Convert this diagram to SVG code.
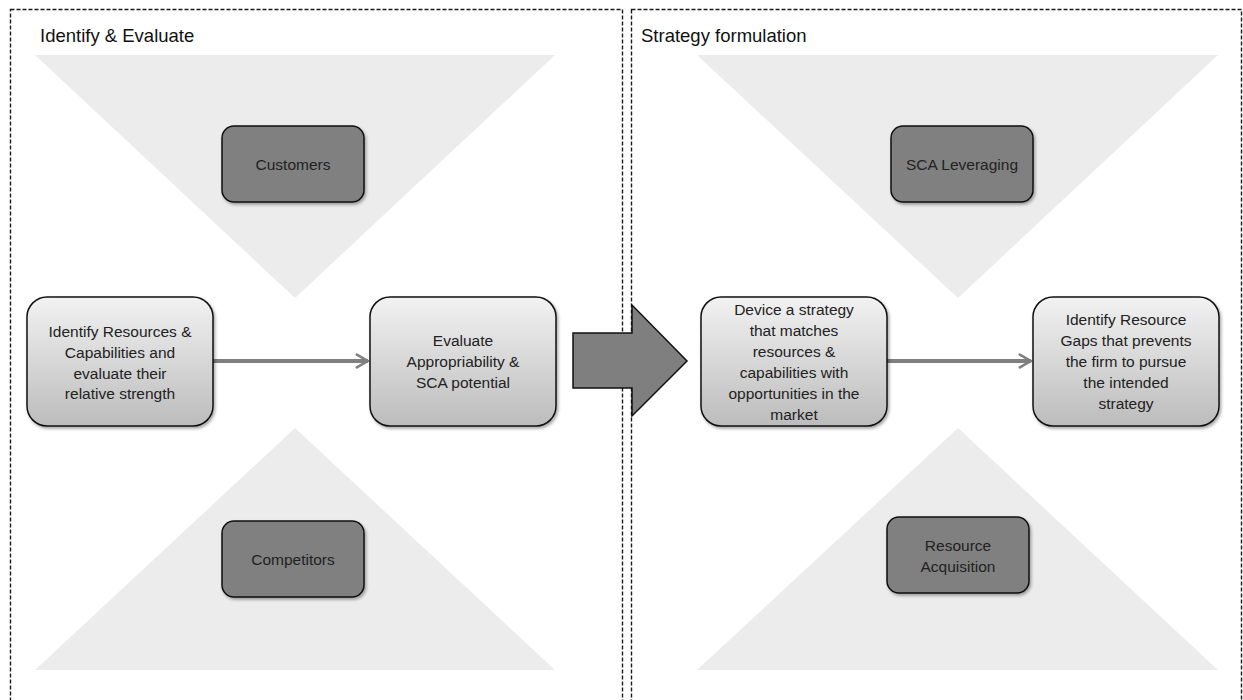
<svg xmlns="http://www.w3.org/2000/svg" width="1243" height="700" viewBox="0 0 1243 700">
<defs>
<linearGradient id="lg" x1="0" y1="0" x2="0" y2="1">
<stop offset="0" stop-color="#f2f2f2"/>
<stop offset="1" stop-color="#bcbcbc"/>
</linearGradient>
<filter id="sh" x="-10%" y="-10%" width="130%" height="130%">
<feDropShadow dx="1.5" dy="2" stdDeviation="1.5" flood-color="#000" flood-opacity="0.35"/>
</filter>
<marker id="ah" viewBox="0 0 10 10" refX="8" refY="5" markerWidth="4" markerHeight="4" orient="auto" markerUnits="strokeWidth">
<path d="M1,1 L8,5 L1,9" fill="none" stroke="#7f7f7f" stroke-width="1.6" stroke-linecap="round" stroke-linejoin="round"/>
</marker>
</defs>
<style>
.panel{fill:#fff;stroke:#1a1a1a;stroke-width:1.4;stroke-dasharray:4 2}
.tri{fill:#ececec}
.title{font-family:"Liberation Sans",Arial,sans-serif;font-size:18.5px;fill:#111}
.dark{fill:#808080;stroke:#111;stroke-width:1.5;filter:url(#sh)}
.light{fill:url(#lg);stroke:#111;stroke-width:1.5;filter:url(#sh)}
.t{font-family:"Liberation Sans",Arial,sans-serif;font-size:15.5px;fill:#222;text-anchor:middle}
.conn{stroke:#7f7f7f;stroke-width:4;fill:none;marker-end:url(#ah)}
.big{fill:#7f7f7f;stroke:#111;stroke-width:1.5;stroke-linejoin:miter}
</style>
<rect width="1243" height="700" fill="#fff"/>
<g id="panel-left">
<rect class="panel" x="10.5" y="9.5" width="612" height="700"/>
<text class="title" x="40" y="42">Identify &amp; Evaluate</text>
<polygon class="tri" points="35,55 555,55 295,298"/>
<polygon class="tri" points="295,428 555,670 35,670"/>
</g>
<g id="panel-right">
<rect class="panel" x="631.5" y="9.5" width="610" height="700"/>
<text class="title" x="641" y="42">Strategy formulation</text>
<polygon class="tri" points="697,55 1218,55 958,298"/>
<polygon class="tri" points="958,428 1218,670 697,670"/>
</g>
<g id="connectors">
<line class="conn" x1="213" y1="361" x2="368" y2="361"/>
<line class="conn" x1="887" y1="361" x2="1031" y2="361"/>
<polygon class="big" points="573,333 632,333 632,305 687,361 632,416 632,388 573,388"/>
</g>
<g id="customers">
<rect class="dark" x="222" y="126" width="142" height="76" rx="12"/>
<text class="t" x="293" y="170">Customers</text>
</g>
<g id="competitors">
<rect class="dark" x="222" y="521" width="142" height="76" rx="12"/>
<text class="t" x="293" y="565">Competitors</text>
</g>
<g id="sca-leveraging">
<rect class="dark" x="891" y="126" width="142" height="76" rx="12"/>
<text class="t" x="962" y="170">SCA Leveraging</text>
</g>
<g id="resource-acquisition">
<rect class="dark" x="887" y="517" width="142" height="76" rx="12"/>
<text class="t" x="958" y="551">Resource</text>
<text class="t" x="958" y="572">Acquisition</text>
</g>
<g id="identify-resources">
<rect class="light" x="27" y="297" width="186" height="129" rx="20"/>
<text class="t" x="120" y="337">Identify Resources &amp;</text>
<text class="t" x="120" y="358">Capabilities and</text>
<text class="t" x="120" y="379">evaluate their</text>
<text class="t" x="120" y="399">relative strength</text>
</g>
<g id="evaluate">
<rect class="light" x="370" y="297" width="186" height="129" rx="20"/>
<text class="t" x="463" y="346">Evaluate</text>
<text class="t" x="463" y="367">Appropriability  &amp;</text>
<text class="t" x="463" y="388">SCA potential</text>
</g>
<g id="device-strategy">
<rect class="light" x="701" y="297" width="186" height="129" rx="20"/>
<text class="t" x="794" y="315">Device a strategy</text>
<text class="t" x="794" y="336">that matches</text>
<text class="t" x="794" y="357">resources &amp;</text>
<text class="t" x="794" y="378">capabilities with</text>
<text class="t" x="794" y="399">opportunities in the</text>
<text class="t" x="794" y="420">market</text>
</g>
<g id="resource-gaps">
<rect class="light" x="1033" y="297" width="186" height="129" rx="20"/>
<text class="t" x="1126" y="325">Identify Resource</text>
<text class="t" x="1126" y="346">Gaps that prevents</text>
<text class="t" x="1126" y="367">the firm to pursue</text>
<text class="t" x="1126" y="388">the intended</text>
<text class="t" x="1126" y="409">strategy</text>
</g>
</svg>
